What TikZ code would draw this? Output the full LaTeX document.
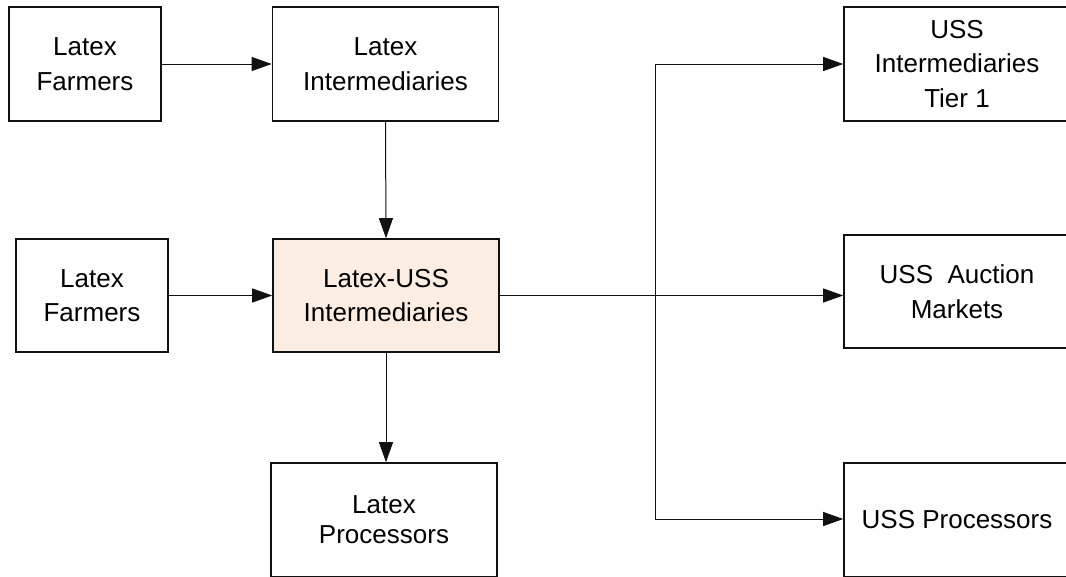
\documentclass[tikz,border=0pt]{standalone}
\usepackage{fontspec}
\setmainfont{Liberation Sans}
\usetikzlibrary{arrows.meta,calc}
\definecolor{peach}{HTML}{FCEDE2}
\definecolor{edge}{HTML}{111111}
\tikzset{
  box/.style={draw=edge, line width=1.6pt, fill=white, minimum width=226pt,
    minimum height=114pt, align=center, inner sep=0pt,
    font=\fontsize{26}{34.5}\selectfont},
  smallbox/.style={box, minimum width=152pt},
  flow/.style={draw=edge, line width=1pt, -{Triangle[length=20pt,width=14pt]}},
  wire/.style={draw=edge, line width=1pt}
}
\begin{document}
\begin{tikzpicture}[x=1pt,y=-1pt]
\useasboundingbox (0,0) rectangle (1066,576);
\clip (0,0) rectangle (1066,576);
\fill[white] (0,0) rectangle (1066,576);

% latex side
\node[smallbox] (LF1) at (85,64) {Latex\\Farmers};
\node[box] (LI) at (385.5,64) {Latex\\Intermediaries};
\node[smallbox, minimum height=113pt] (LF2) at (92,295.5) {Latex\\Farmers};
\node[box, fill=peach, minimum height=113pt] (LU) at (386,295.5) {Latex-USS\\Intermediaries};
\node[box, font=\fontsize{26}{30}\selectfont] (LP) at (384,520) {Latex\\Processors};

% uss side
\node[box] (T1) at (957,64) {USS\\Intermediaries\\Tier 1};
\node[box, minimum height=113pt] (AU) at (957,291.5) {USS\ \ Auction\\Markets};
\node[box] (UP) at (957,520) {USS Processors};

% connectors
\draw[flow] (LF1.east) -- (LI.west);
\draw[flow] (LI.south) -- (LU.north);
\draw[flow] (LF2.east) -- (LF2.east -| LU.west);
\draw[flow] (LU.south) -- (LU.south |- LP.north);
\draw[flow] (LU.east) -- (LU.east -| AU.west);

\coordinate (trunkTop) at (655,64);
\coordinate (trunkBot) at (655,519);
\draw[wire] (trunkTop) -- (trunkBot);
\draw[flow] (trunkTop) -- (T1.west);
\draw[flow] (trunkBot) -- (trunkBot -| UP.west);
\end{tikzpicture}
\end{document}
